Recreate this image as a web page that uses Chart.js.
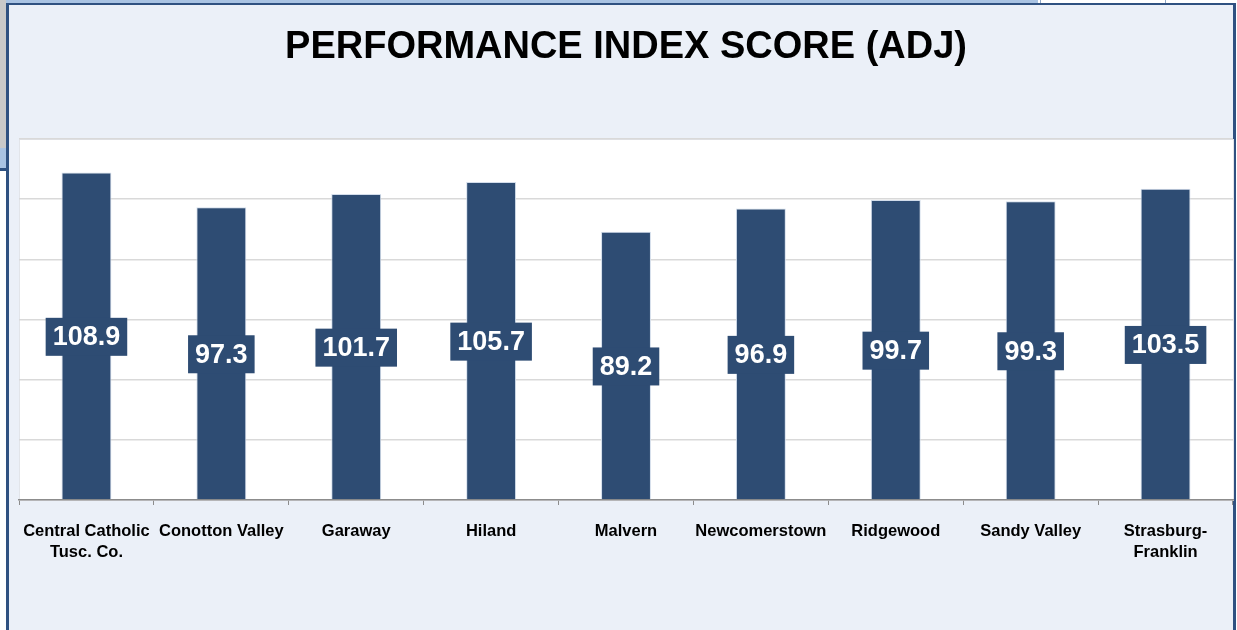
<!DOCTYPE html>
<html>

<head>
  <title>Performance Index Score (ADJ)</title>
  <script src="https://cdn.jsdelivr.net/npm/chart.js"></script>
  <style>
    html, body { margin: 0; padding: 0; background: #ffffff; overflow: hidden; }
    body { width: 1237px; height: 630px; position: relative; font-family: "Liberation Sans", Arial, sans-serif; }
    .topStrip { position: absolute; left: 0; top: 0; width: 1038px; height: 3px; background: #a9c3e3; }
    .topCell1 { position: absolute; left: 1040px; top: 0; width: 124px; height: 3px; border-left: 1px solid #8fa7c6; }
    .topCell2 { position: absolute; left: 1165px; top: 0; width: 72px; height: 3px; border-left: 1px solid #8fa7c6; }
    .sideGray { position: absolute; left: 0; top: 0; width: 6px; height: 148px; background: #c9c9c9; }
    .sideBlue { position: absolute; left: 0; top: 148px; width: 6px; height: 20px; background: #a9c3e3; }
    .sideLine { position: absolute; left: 0; top: 168px; width: 6px; height: 3px; background: #2f5181; }
    .frame {
      position: absolute; left: 6px; top: 3px; width: 1224px; height: 700px;
      border-left: 3px solid #2f5181; border-right: 3px solid #2f5181; border-top: 2px solid #2f5181;
      background: #ebf0f8;
    }
    .chartBox { position: absolute; left: 0; top: 0; width: 1237px; height: 630px; }
  </style>
</head>

<body>
  <div class="topStrip"></div>
  <div class="topCell1"></div>
  <div class="topCell2"></div>
  <div class="sideGray"></div>
  <div class="sideBlue"></div>
  <div class="sideLine"></div>
  <div class="frame"></div>
  <div class="chartBox">
    <canvas id="grafico"></canvas>
  </div>

  <script>
    // dados do grafico
    const escolas = [
      ["Central Catholic", "Tusc. Co."],
      "Conotton Valley",
      "Garaway",
      "Hiland",
      "Malvern",
      "Newcomerstown",
      "Ridgewood",
      "Sandy Valley",
      ["Strasburg-", "Franklin"]
    ];
    const indiceAjustado = [108.9, 97.3, 101.7, 105.7, 89.2, 96.9, 99.7, 99.3, 103.5];
    const yTicks = [0, 20, 40, 60, 80, 100, 120];

    const corBarra = "#2e4c73";

    // fundo branco da area do grafico
    const fundoArea = {
      id: "fundoArea",
      beforeDraw(chart) {
        const { ctx, chartArea } = chart;
        ctx.save();
        ctx.fillStyle = "#ffffff";
        ctx.fillRect(chartArea.left, chartArea.top, chartArea.right - chartArea.left, chartArea.bottom - chartArea.top);
        ctx.strokeStyle = "#e2e5ea";
        ctx.lineWidth = 1;
        ctx.strokeRect(chartArea.left + 0.5, chartArea.top + 0.5, chartArea.right - chartArea.left, chartArea.bottom - chartArea.top);
        ctx.restore();
      }
    };

    // rotulos com caixa no meio de cada barra
    const rotulos = {
      id: "rotulos",
      afterDatasetsDraw(chart) {
        const { ctx } = chart;
        const meta = chart.getDatasetMeta(0);
        ctx.save();
        ctx.font = "bold 27px 'Liberation Sans', Arial, sans-serif";
        ctx.textAlign = "center";
        ctx.textBaseline = "middle";
        meta.data.forEach((barra, i) => {
          const texto = indiceAjustado[i].toFixed(1);
          const larg = ctx.measureText(texto).width + 14;
          const alt = 38;
          const cy = (barra.y + barra.base) / 2 + 1;
          ctx.fillStyle = corBarra;
          ctx.fillRect(barra.x - larg / 2, cy - alt / 2, larg, alt);
          ctx.fillStyle = "#ffffff";
          ctx.fillText(texto, barra.x, cy + 1);
        });
        ctx.restore();
      }
    };

    const config = {
      type: "bar",
      data: {
        labels: escolas,
        datasets: [{
          data: indiceAjustado,
          backgroundColor: corBarra,
          borderColor: "#d3ddeb",
          borderWidth: 1,
          barPercentage: 0.37,
          categoryPercentage: 1
        }]
      },
      options: {
        responsive: true,
        maintainAspectRatio: false,
        animation: false,
        layout: { padding: { left: 19, right: 4, top: 0, bottom: 0 } },
        plugins: {
          legend: { display: false },
          tooltip: { enabled: false },
          title: {
            display: true,
            text: "PERFORMANCE INDEX SCORE (ADJ)",
            color: "#000000",
            font: { family: "'Liberation Sans', Arial, sans-serif", size: 38, weight: "bold", lineHeight: 1.2 },
            padding: { top: 25, bottom: 68.4 }
          }
        },
        scales: {
          x: {
            afterFit(s) { s.height = 130; },
            grid: {
              offset: true,
              drawOnChartArea: false,
              color: "#8c8c8c",
              tickLength: 5
            },
            border: { color: "#8c8c8c", width: 1.5 },
            ticks: {
              color: "#000000",
              padding: 16,
              maxRotation: 0,
              autoSkip: false,
              font: { family: "'Liberation Sans', Arial, sans-serif", size: 16.5, weight: "bold", lineHeight: 1.27 }
            }
          },
          y: {
            min: yTicks[0],
            max: yTicks[yTicks.length - 1],
            afterFit(s) { s.width = 0; },
            afterBuildTicks(s) { s.ticks = yTicks.map(v => ({ value: v })); },
            border: { display: false },
            grid: { color: "#d9d9d9", lineWidth: 1.5, drawTicks: false },
            ticks: { display: false }
          }
        }
      },
      plugins: [fundoArea, rotulos]
    };

    new Chart(document.getElementById("grafico"), config);
  </script>
</body>

</html>
